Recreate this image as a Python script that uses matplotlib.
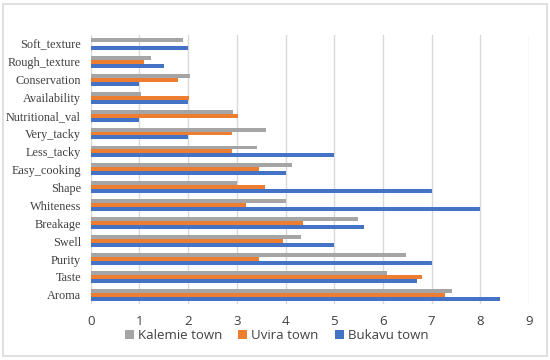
import numpy             as np
import matplotlib.pyplot as plt
from matplotlib.patches import Rectangle

# Chart data (bottom to top)
categories = ['Aroma', 'Taste', 'Purity', 'Swell', 'Breakage', 'Whiteness',
              'Shape', 'Easy_cooking', 'Less_tacky', 'Very_tacky',
              'Nutritional_val', 'Availability', 'Conservation',
              'Rough_texture', 'Soft_texture']
kalemie = [7.41, 6.09, 6.48, 4.32, 5.49, 4.0, 3.0, 4.14, 3.42, 3.59,
           2.92, 1.03, 2.03, 1.24, 1.89]
uvira   = [7.27, 6.81, 3.46, 3.95, 4.36, 3.18, 3.58, 3.45, 2.89, 2.89,
           3.03, 2.02, 1.8, 1.09, 0.0]
bukavu  = [8.4, 6.69, 7.0, 5.0, 5.6, 8.0, 7.0, 4.0, 5.0, 2.0,
           1.0, 2.0, 1.0, 1.5, 2.0]
x_ticks = list(range(10))

c_kal = '#A5A5A5'
c_uvi = '#ED7D31'
c_buk = '#4472C4'

fig = plt.figure(figsize=(5.5, 3.6), dpi=100)
ax  = fig.add_axes([0.165, 0.156, 0.797, 0.747])

#       Outer frame of the chart
fig.patches.append(Rectangle((0.006, 0.012), 0.988, 0.976,
                             transform=fig.transFigure, fill=False,
                             edgecolor='#d9d9d9', linewidth=1.2))

y = np.arange(len(categories))
h = 0.22
ax.barh(y - h, bukavu,  height=h, color=c_buk, label='Bukavu town', zorder=3)
ax.barh(y,     uvira,   height=h, color=c_uvi, label='Uvira town',  zorder=3)
ax.barh(y + h, kalemie, height=h, color=c_kal, label='Kalemie town', zorder=3)

ax.set_xlim(0, 9)
ax.set_ylim(-0.5, len(categories) - 0.5)
ax.set_xticks(x_ticks)
ax.set_xticklabels([str(v) for v in x_ticks], family='Open Sans',
                   fontsize=9.5, color='#404040')
ax.set_yticks(y)
ax.set_yticklabels(categories, family='Liberation Serif', fontsize=8.8,
                   color='#404040')
ax.tick_params(axis='y', length=0, pad=7)
ax.tick_params(axis='x', length=0, pad=8)
ax.grid(axis='x', color='#d9d9d9', linewidth=1, zorder=0)
for s in ax.spines.values():
    s.set_visible(False)

handles, labels = ax.get_legend_handles_labels()
leg = fig.legend(handles[::-1], labels[::-1], loc='center',
                 bbox_to_anchor=(0.503, 0.068), ncol=3, frameon=False,
                 prop={'family': 'Open Sans', 'size': 9.5},
                 handlelength=0.7, handleheight=0.7, columnspacing=1.2,
                 handletextpad=0.3)
for t in leg.get_texts():
    t.set_color('#404040')

plt.savefig('out.png', dpi=100)
